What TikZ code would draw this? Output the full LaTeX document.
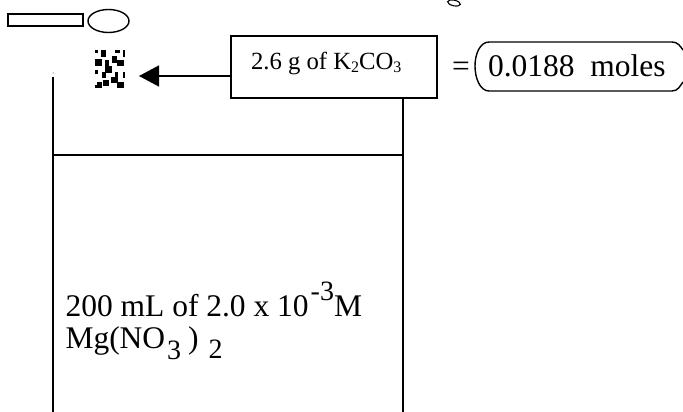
\documentclass[tikz,border=0pt]{standalone}
\usepackage{fontspec}
\setmainfont{Liberation Serif}
\usetikzlibrary{arrows.meta,shapes.geometric}
\newcommand{\lowered}[3]{\raisebox{#1}{\fontsize{#2}{#2}\selectfont #3}}
\tikzset{
  ln/.style={line width=1.4pt,black},
  boxed/.style={draw,line width=1.4pt,inner sep=0pt},
  txt/.style={inner sep=0pt,outer sep=0pt,anchor=base west,black},
  big/.style={font=\fontsize{31.5}{31.5}\selectfont},
  small/.style={font=\fontsize{24.7}{24.7}\selectfont},
  px/.style={fill=black,draw=black,line width=0.7pt}
}
\begin{document}
\begin{tikzpicture}[x=1pt,y=-1pt]
\useasboundingbox (0,0) rectangle (683,412);
% clipped descender from the line above
\draw[line width=1.1pt,rotate around={-12:(454,3)}] (454,3) ellipse (6.5pt and 2.8pt);
% small outline shapes
\node[boxed,minimum width=75pt,minimum height=12pt] (bar) at (45.5,20) {};
\node[boxed,shape=ellipse,minimum width=41pt,minimum height=23pt] (oval) at (108.5,21) {};
% mottled speck
\foreach \a/\b/\c/\d in {
 101/50/105/56, 95/50/97/52, 115/50/119/52, 123/50/124/56,
 95/59/101/65, 105/60/108/65, 112/56/116/62, 117/60/123/65,
 95/70/97/73, 105/66/111/72, 102/72/105/77, 115/72/117/77, 123/72/124/77,
 103/80/108/85, 111/77/117/82, 117/82/123/87, 97/82/101/87, 95/85/97/87
}{\fill[px] (\a,\b) rectangle (\c,\d);}
% reagent box
\node[boxed,minimum width=206pt,minimum height=62pt] (reagent) at (334,67) {};
\node[txt,small] (reagentlabel) at (251,70) {2.6 g of K\lowered{-3pt}{16}{2}CO\lowered{-3pt}{16}{3}};
\coordinate (tip) at (139,76);
\draw[ln,-{Triangle[length=20pt,width=21pt]}] (reagent.west |- tip) -- (tip);
% result
\node[txt,big] (eq) at (452,77) {=};
\draw[ln] (489,42) -- (672,42) .. controls (678,42) and (680,46) .. (683,50);
\draw[ln] (683,82) .. controls (680,86) and (678,91) .. (672,91) -- (489,91)
  .. controls (480,91) and (475,78) .. (475,66) .. controls (475,54) and (480,42) .. (489,42);
\node[txt,big] (moles) at (488,77) {0.0188\hspace{0.5em}moles};
% beaker
\coordinate (lt) at (53,77);
\coordinate (lb) at (53,412);
\coordinate (rb) at (403,412);
\draw[ln] (lt) -- (lb);
\draw[ln] (reagent.south -| rb) -- (rb);
\coordinate (sl) at (53,155);
\coordinate (sr) at (403,155);
\draw[ln] (sl) -- (sr);
\fill (53,73) circle (0.5pt);
% solution label
\node[txt,big] (conc) at (65.5,316) {200 mL of 2.0 x 10\hspace{2pt}\lowered{16pt}{28}{-3}M};
\node[txt,big] (salt) at (65.5,348) {Mg(NO\hspace{2pt}\lowered{-11pt}{28}{3}\hspace{7pt})\hspace{10pt}\lowered{-10pt}{28}{2}};
\end{tikzpicture}
\end{document}
